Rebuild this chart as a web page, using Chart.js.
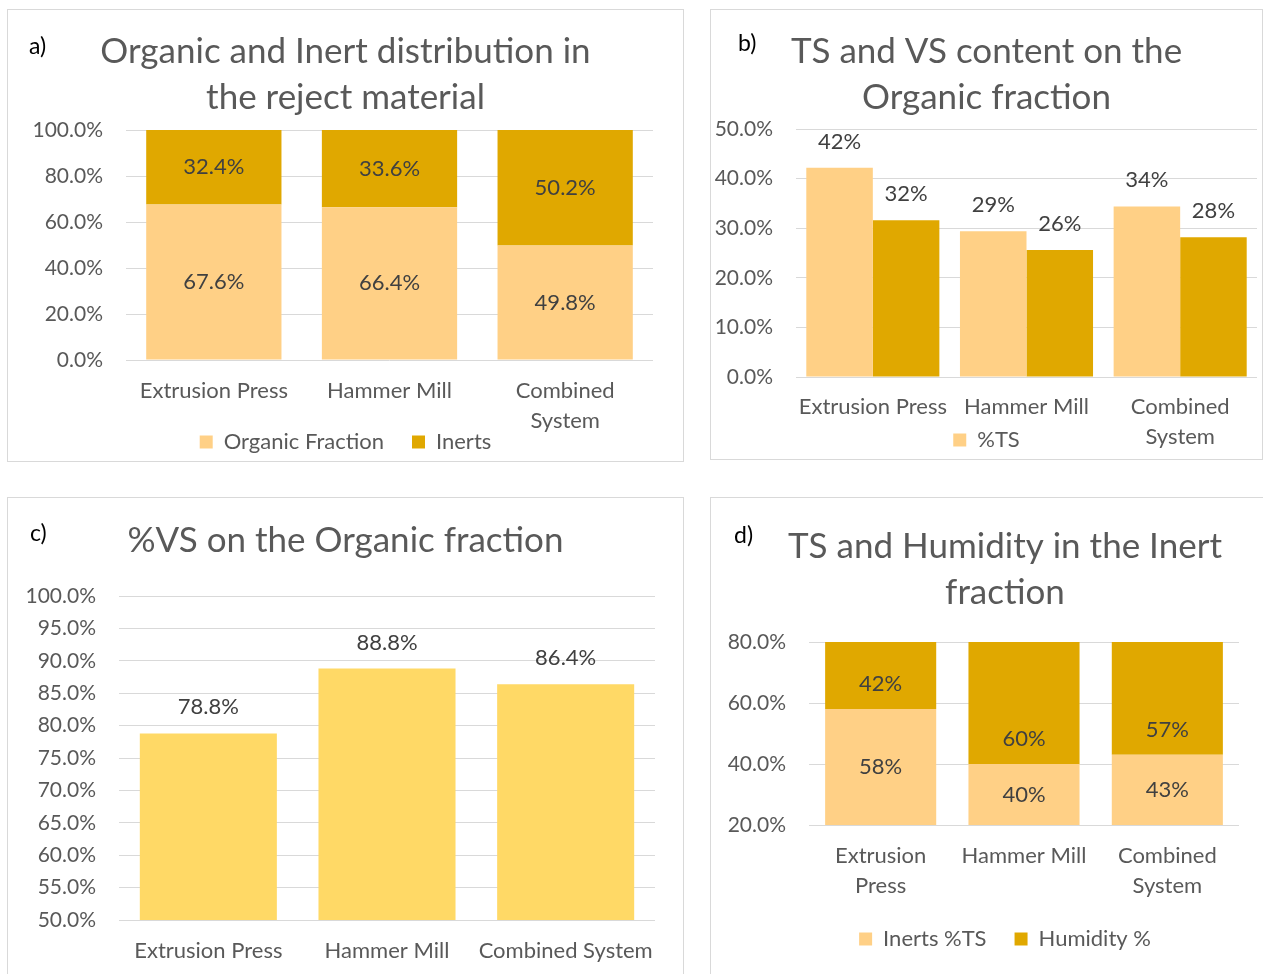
<!DOCTYPE html>
<html><head><meta charset="utf-8">
<script src="https://cdn.jsdelivr.net/npm/chart.js@4.4.0/dist/chart.umd.min.js"></script>
<style>
html,body{margin:0;padding:0;background:#fff;overflow:hidden;width:1263px;height:974px;position:relative;}
.panel{position:absolute;border:1px solid #D9D9D9;box-sizing:border-box;}
canvas{position:absolute;}
.tag{position:absolute;font-family:Lato,sans-serif;font-size:23px;color:#000;line-height:23px;}
</style></head><body>
<div class="panel" style="left:7px;top:9px;width:677px;height:453px"></div>
<div class="panel" style="left:710px;top:9px;width:553px;height:451px"></div>
<div class="panel" style="left:7px;top:497px;width:677px;height:600px"></div>
<div class="panel" style="left:710px;top:497px;width:700px;height:600px"></div>
<canvas id="ca" width="675" height="460" style="left:8px;top:10px;width:675px;height:460px"></canvas>
<canvas id="cb" width="551" height="460" style="left:711px;top:10px;width:551px;height:460px"></canvas>
<canvas id="cc" width="675" height="476" style="left:8px;top:498px;width:675px;height:476px"></canvas>
<canvas id="cd" width="588" height="476" style="left:711px;top:498px;width:588px;height:476px"></canvas>
<div class="tag" style="left:29px;top:34px">a)</div>
<div class="tag" style="left:738px;top:31px">b)</div>
<div class="tag" style="left:30px;top:521px">c)</div>
<div class="tag" style="left:734px;top:523px">d)</div>
<script>
// ---------- data ----------
const systemsA = ['Extrusion Press', 'Hammer Mill', ['Combined', 'System']];
const organicFraction = [67.6, 66.4, 49.8];
const inerts = [32.4, 33.6, 50.2];

const systemsB = ['Extrusion Press', 'Hammer Mill', ['Combined', 'System']];
const tsOrganic = [42.2, 29.4, 34.4];
const vsOrganic = [31.6, 25.6, 28.2];

const systemsC = ['Extrusion Press', 'Hammer Mill', 'Combined System'];
const vsOnOrganic = [78.8, 88.8, 86.4];

const systemsD = [['Extrusion', 'Press'], 'Hammer Mill', ['Combined', 'System']];
const inertsTS = [58, 40, 43];
const humidity = [42, 60, 57];

const titleA = ['Organic and Inert distribution in', 'the reject material'];
const titleB = ['TS and VS content on the', 'Organic fraction'];
const titleC = ['%VS on the Organic fraction'];
const titleD = ['TS and Humidity in the Inert', 'fraction'];

// ---------- styles ----------
const LIGHT = '#FFD086', DARK = '#E0A800', YELLOW = '#FFD966';
const TXT = '#595959', LBL = '#404040', GRID = '#D9D9D9';
const FONT = 'Lato';
const TICK = 21, XLAB = 22, DLAB = 22, LEG = 22, TITLE = 35;
const LEG_PAD = 28;

const valueLabels = {
  id: 'valueLabels',
  afterDatasetsDraw(chart, args, opts) {
    if (!opts || !opts.display) return;
    const {ctx, chartArea} = chart;
    ctx.save();
    ctx.font = DLAB + 'px ' + FONT;
    ctx.fillStyle = LBL;
    ctx.textAlign = 'center';
    ctx.textBaseline = 'middle';
    chart.data.datasets.forEach((ds, di) => {
      const meta = chart.getDatasetMeta(di);
      const mode = opts.modes[di];
      meta.data.forEach((bar, i) => {
        const v = ds.data[i];
        const top = Math.max(Math.min(bar.y, bar.base), chartArea.top);
        const bottom = Math.min(Math.max(bar.y, bar.base), chartArea.bottom);
        let y;
        if (mode === 'center') y = (top + bottom) / 2;
        else if (mode === 'above') y = top - opts.offset;
        else y = bottom - opts.offset;
        ctx.fillText(v.toFixed(opts.decimals) + '%', bar.x, y);
      });
    });
    ctx.restore();
  }
};

function build(id, cfg) {
  const W = cfg.W;
  const opts = {
    responsive: false,
    maintainAspectRatio: false,
    animation: false,
    events: [],
    layout: {padding: {left: 0, top: 0, right: 0, bottom: cfg.padBottom}},
    plugins: {
      tooltip: {enabled: false},
      title: {
        display: true,
        text: cfg.title,
        color: TXT,
        font: {family: FONT, size: TITLE, weight: 'normal', lineHeight: '46px'},
        padding: {top: cfg.titleTop, bottom: cfg.T - cfg.titleTop - 46 * cfg.title.length}
      },
      legend: cfg.legend ? {
        display: true,
        position: 'bottom',
        labels: {
          color: TXT,
          font: {family: FONT, size: LEG},
          boxWidth: 13, boxHeight: 13, padding: LEG_PAD,
          filter: cfg.legendFilter || (() => true)
        }
      } : {display: false},
      valueLabels: cfg.labels
    },
    scales: {
      x: {
        stacked: !!cfg.stacked,
        grid: {display: false, drawTicks: false},
        border: {display: false},
        ticks: {
          color: TXT, font: {family: FONT, size: XLAB, lineHeight: '30px'},
          padding: cfg.xPad, maxRotation: 0, minRotation: 0, autoSkip: false
        },
        afterFit: s => { s.height = cfg.xH; s._computeLabelArea = () => undefined; }
      },
      y: {
        stacked: !!cfg.stacked,
        min: cfg.yMin, max: cfg.yMax,
        grid: {color: GRID, lineWidth: 1, drawTicks: false},
        border: {display: false},
        ticks: {
          stepSize: cfg.yStep, color: TXT, padding: 23,
          font: {family: FONT, size: TICK},
          callback: v => Number(v).toFixed(1) + '%'
        },
        afterFit: s => { s.width = cfg.L; }
      },
      yRightSpace: {
        position: 'right',
        display: true,
        grid: {display: false, drawTicks: false},
        border: {display: false},
        ticks: {display: false},
        afterFit: s => { s.width = W - cfg.R; }
      }
    }
  };
  return new Chart(document.getElementById(id), {
    type: 'bar',
    data: {labels: cfg.categories, datasets: cfg.datasets},
    options: opts,
    plugins: [valueLabels]
  });
}

function draw() {
  Chart.defaults.font.family = FONT;
  // a)
  build('ca', {
    W: 675, L: 118, R: 645, T: 120, titleTop: 19,
    title: titleA, categories: systemsA, stacked: true,
    yMin: 0, yMax: 100, yStep: 20, xPad: 16, xH: 43, padBottom: 7, legend: true,
    datasets: [
      {label: 'Organic Fraction', data: organicFraction, backgroundColor: LIGHT, borderWidth: 0, barPercentage: 0.77, categoryPercentage: 1},
      {label: 'Inerts', data: inerts, backgroundColor: DARK, borderWidth: 0, barPercentage: 0.77, categoryPercentage: 1}
    ],
    labels: {display: true, modes: ['center', 'center'], decimals: 1, offset: 0}
  });
  // b)
  build('cb', {
    W: 551, L: 85, R: 546, T: 119, titleTop: 19,
    title: titleB, categories: systemsB, stacked: false,
    yMin: 0, yMax: 50, yStep: 10, xPad: 15, xH: 24, padBottom: 9, legend: true,
    legendFilter: item => item.datasetIndex === 0,
    datasets: [
      {label: '%TS', data: tsOrganic, backgroundColor: LIGHT, borderWidth: 0, barPercentage: 1, categoryPercentage: 0.866},
      {label: '%VS', data: vsOrganic, backgroundColor: DARK, borderWidth: 0, barPercentage: 1, categoryPercentage: 0.866}
    ],
    labels: {display: true, modes: ['above', 'above'], decimals: 0, offset: 26}
  });
  // c)
  build('cc', {
    W: 675, L: 111, R: 647, T: 98, titleTop: 20,
    title: titleC, categories: systemsC, stacked: false,
    yMin: 50, yMax: 100, yStep: 5, xPad: 16, xH: 54, padBottom: 0, legend: false,
    datasets: [
      {label: '%VS', data: vsOnOrganic, backgroundColor: YELLOW, borderWidth: 0, barPercentage: 0.767, categoryPercentage: 1}
    ],
    labels: {display: true, modes: ['above'], decimals: 1, offset: 26}
  });
  // d)
  build('cd', {
    W: 588, L: 98, R: 528, T: 144, titleTop: 26,
    title: titleD, categories: systemsD, stacked: true,
    yMin: 20, yMax: 80, yStep: 20, xPad: 16, xH: 75, padBottom: 14, legend: true,
    datasets: [
      {label: 'Inerts %TS', data: inertsTS, backgroundColor: LIGHT, borderWidth: 0, barPercentage: 0.775, categoryPercentage: 1, clip: 0},
      {label: 'Humidity %', data: humidity, backgroundColor: DARK, borderWidth: 0, barPercentage: 0.775, categoryPercentage: 1, clip: 0}
    ],
    labels: {display: true, modes: ['center', 'aboveBase'], decimals: 0, offset: 25}
  });
}

if (document.fonts && document.fonts.load) {
  document.fonts.load('21px Lato').then(draw, draw);
} else {
  draw();
}
</script>
</body></html>
